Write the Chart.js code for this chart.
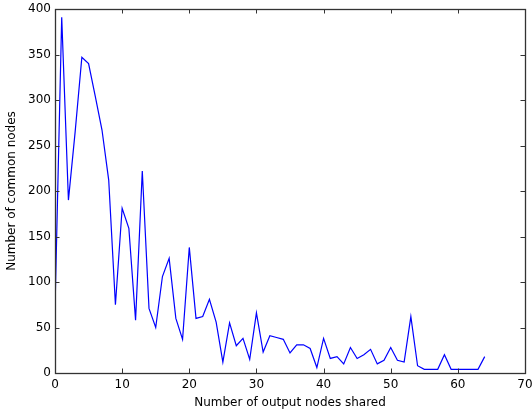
<!DOCTYPE html>
<html>
<head>
<meta charset="utf-8">
<script src="https://cdn.jsdelivr.net/npm/chart.js@4/dist/chart.umd.min.js"></script>
<style>
html,body{margin:0;padding:0;background:#fff;}
#wrap{width:532px;height:419px;position:relative;}
</style>
</head>
<body>
<div id="wrap"><canvas id="c" width="532" height="419"></canvas></div>
<script>
const xValues = [0,1,2,3,4,5,6,7,8,9,10,11,12,13,14,15,16,17,18,19,20,21,22,23,24,25,26,27,28,29,30,31,32,33,34,35,36,37,38,39,40,41,42,43,44,45,46,47,48,49,50,51,52,53,54,55,56,57,58,59,60,61,62,63,64];
const commonNodes = [70,391,190,265,347,340,304,267,212,75,181,159,58,222,71,50,106,126,60,37,138,60,62,81,56,12,55,30,38,15,66,23,41,39,37,22,31,31,27,6,38,16,18,10,28,16,20,26,10,14,28,14,12,62,8,4,4,4,20,4,4,4,4,4,18];
const xTicks = [0,10,20,30,40,50,60,70];
const yTicks = [0,50,100,150,200,250,300,350,400];

const FONT = "'DejaVu Sans', sans-serif";

const framePlugin = {
  id: 'frame',
  afterDatasetsDraw(chart) {
    const {ctx, chartArea: a, scales} = chart;
    ctx.save();
    ctx.strokeStyle = '#333';
    ctx.lineWidth = 1;
    ctx.beginPath();
    const tl = 4.5;
    scales.x.ticks.forEach(t => {
      const px = Math.round(scales.x.getPixelForValue(t.value)) + 0.5;
      ctx.moveTo(px, a.bottom); ctx.lineTo(px, a.bottom - tl);
      ctx.moveTo(px, a.top); ctx.lineTo(px, a.top + tl);
    });
    scales.y.ticks.forEach(t => {
      const py = Math.round(scales.y.getPixelForValue(t.value)) + 0.5;
      ctx.moveTo(a.left, py); ctx.lineTo(a.left + tl, py);
      ctx.moveTo(a.right, py); ctx.lineTo(a.right - tl, py);
    });
    ctx.stroke();
    ctx.lineWidth = 1.3;
    ctx.strokeRect(Math.round(a.left) + 0.5, Math.round(a.top) + 0.5,
                   Math.round(a.right - a.left), Math.round(a.bottom - a.top));
    ctx.restore();
  }
};

new Chart(document.getElementById('c'), {
  type: 'line',
  data: {
    datasets: [{
      data: xValues.map((x, i) => ({x: x, y: commonNodes[i]})),
      borderColor: '#0000ff',
      borderWidth: 1.2,
      pointRadius: 0,
      fill: false,
      tension: 0
    }]
  },
  options: {
    responsive: false,
    animation: false,
    layout: {padding: {left: 0, right: 7, top: 9, bottom: 0}},
    plugins: {legend: {display: false}, tooltip: {enabled: false}},
    scales: {
      x: {
        type: 'linear', min: 0, max: 70,
        afterBuildTicks: s => { s.ticks = xTicks.map(v => ({value: v})); },
        afterFit: s => { s.height = 46; s.paddingLeft = 0; s.paddingRight = 0; },
        grid: {display: false, drawTicks: false},
        border: {display: false},
        ticks: {color: '#000', font: {family: FONT, size: 12}, padding: 5, maxRotation: 0, autoSkip: false},
        title: {display: true, text: 'Number of output nodes shared', color: '#000', font: {family: FONT, size: 12}, padding: {top: 0, bottom: 9}}
      },
      y: {
        min: 0, max: 400,
        afterBuildTicks: s => { s.ticks = yTicks.map(v => ({value: v})); },
        afterFit: s => { s.width = 55; s.paddingTop = 0; s.paddingBottom = 0; },
        grid: {display: false, drawTicks: false},
        border: {display: false},
        ticks: {color: '#000', font: {family: FONT, size: 12}, padding: 4, autoSkip: false},
        title: {display: true, text: 'Number of common nodes', color: '#000', font: {family: FONT, size: 12}, padding: {top: 5, bottom: 0}}
      }
    }
  },
  plugins: [framePlugin]
});
</script>
</body>
</html>
